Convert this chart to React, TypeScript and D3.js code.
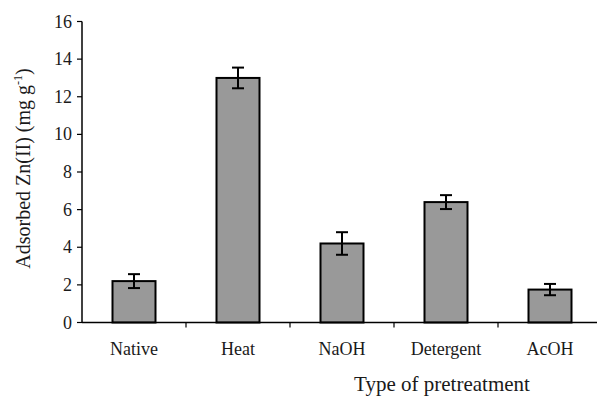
import React from "react";
import * as d3 from "d3";

const categories = ["Native", "Heat", "NaOH", "Detergent", "AcOH"];
const values = [2.2, 13.0, 4.2, 6.4, 1.75];
const errors = [0.37, 0.55, 0.6, 0.37, 0.3];
const yTicks = [0, 2, 4, 6, 8, 10, 12, 14, 16];

const W = 597;
const H = 397;
const left = 82;
const top = 21.5;
const bottom = 322.5;
const right = 602;

export default function App() {
  const x = d3.scaleBand<string>().domain(categories).range([left, right]).paddingInner(0).paddingOuter(0);
  const y = d3.scaleLinear().domain([0, 16]).range([bottom, top]);
  const barW = 43;
  const font = "'Liberation Serif', 'Times New Roman', serif";
  const ink = "#1a1a1a";
  const boundaries = categories.map((c) => (x(c) as number) + x.bandwidth());

  return (
    <svg width={W} height={H} style={{ position: "absolute", left: 0, top: 0 }} fontFamily={font}>
      <rect width={W} height={H} fill="#fff" />
      {categories.map((c, i) => {
        const cx = (x(c) as number) + x.bandwidth() / 2;
        const yt = y(values[i]);
        const e1 = y(values[i] + errors[i]);
        const e2 = y(values[i] - errors[i]);
        return (
          <g key={c}>
            <rect x={cx - barW / 2} y={yt} width={barW} height={bottom - yt} fill="#999999" stroke="#000" strokeWidth={2} />
            <line x1={cx} x2={cx} y1={e1} y2={e2} stroke="#000" strokeWidth={2} />
            <line x1={cx - 6} x2={cx + 6} y1={e1} y2={e1} stroke="#000" strokeWidth={2} />
            <line x1={cx - 6} x2={cx + 6} y1={e2} y2={e2} stroke="#000" strokeWidth={2} />
            <text x={cx} y={355} textAnchor="middle" fontSize={18} fill={ink}>{c}</text>
          </g>
        );
      })}
      {/* axes */}
      <line x1={left} x2={left} y1={top} y2={bottom} stroke="#000" strokeWidth={1.5} />
      <line x1={left} x2={right} y1={bottom} y2={bottom} stroke="#000" strokeWidth={1.5} />
      {yTicks.map((t) => (
        <g key={t}>
          <line x1={left - 5} x2={left} y1={y(t)} y2={y(t)} stroke="#000" strokeWidth={1.2} />
          <text x={72} y={y(t) + 6} textAnchor="end" fontSize={18} fill={ink}>{t}</text>
        </g>
      ))}
      {boundaries.map((b, i) => (
        <line key={i} x1={b} x2={b} y1={bottom} y2={bottom + 5} stroke="#000" strokeWidth={1.2} />
      ))}
      <text x={442} y={391} textAnchor="middle" fontSize={21} fill={ink}>Type of pretreatment</text>
      <text transform={`translate(30, 168.5) rotate(-90)`} textAnchor="middle" fontSize={20} fill={ink}>
        Adsorbed Zn(II) (mg g
        <tspan fontSize={12} dy={-8}>-1</tspan>
        <tspan dy={8}>)</tspan>
      </text>
    </svg>
  );
}
